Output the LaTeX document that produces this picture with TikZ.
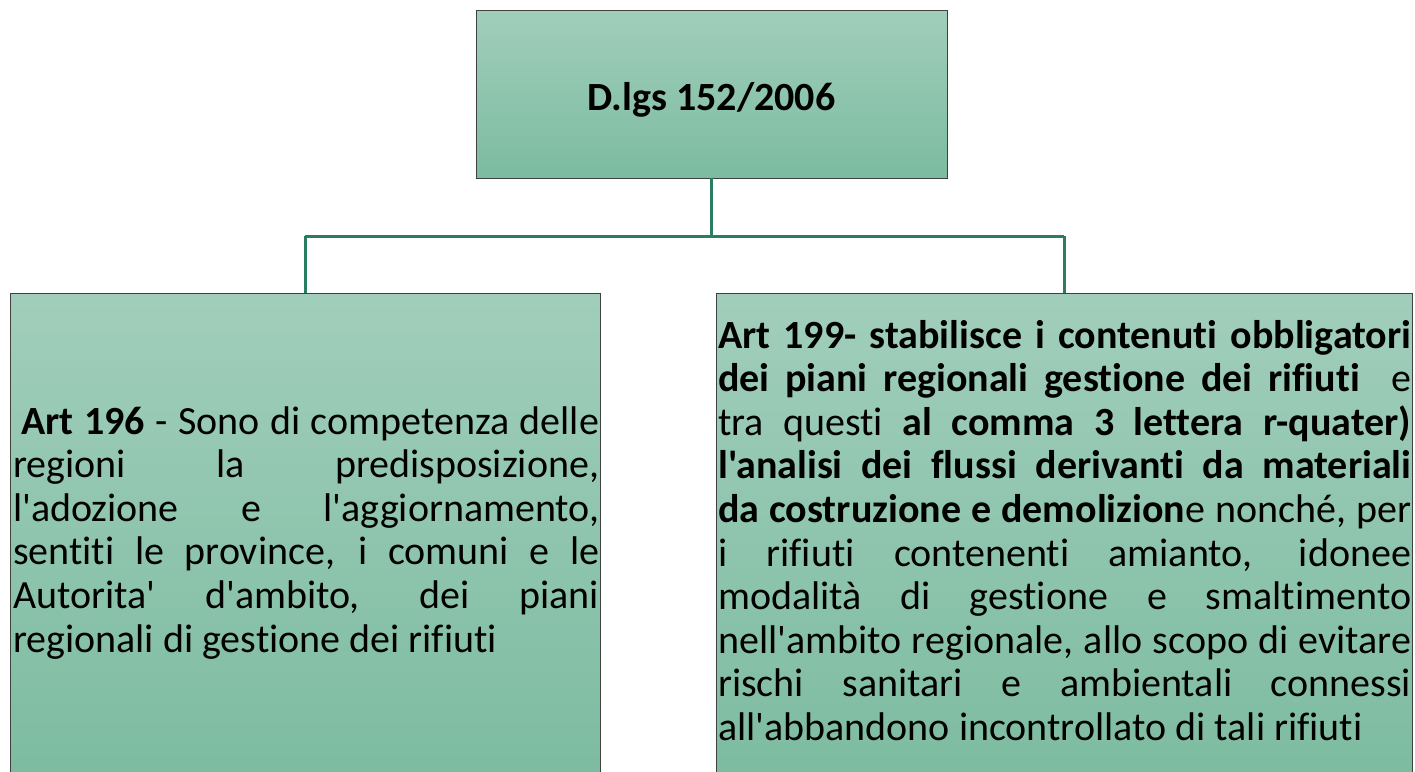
\documentclass[tikz,border=0pt]{standalone}
\usepackage{fontspec}
\newfontfamily\calfont{Carlito}[Ligatures={NoCommon}]
\definecolor{boxtop}{HTML}{A1CEBB}
\definecolor{boxbot}{HTML}{7CBBA0}
\definecolor{boxline}{HTML}{404040}
\definecolor{conn}{HTML}{2A7D62}
\tikzset{
  gbox/.style={draw=boxline, line width=0.8pt, top color=boxtop, bottom color=boxbot, inner sep=0pt},
  link/.style={draw=conn, line width=3pt},
  txt/.style={anchor=base west, inner sep=0pt, font=\calfont\fontsize{40}{43.6}\selectfont},
}
\newcommand{\jl}[2]{\makebox[#1][s]{#2}\\}
\begin{document}
\begin{tikzpicture}[x=1pt,y=-1pt]
\useasboundingbox (0,0) rectangle (1415,771);
\begin{scope}
\clip (0,0) rectangle (1415,771);
\path[gbox] (476,10) rectangle (947,178);
\node[inner sep=0, minimum width=471pt, minimum height=168pt] (top) at (711.5,94) {};
\path[gbox] (10,293) rectangle (600,790);
\node[inner sep=0, minimum width=590pt, minimum height=497pt] (left) at (305,541.5) {};
\path[gbox] (716,293) rectangle (1412,790);
\node[inner sep=0, minimum width=696pt, minimum height=497pt] (right) at (1064,541.5) {};
\end{scope}
\node[font=\calfont\bfseries\fontsize{40}{44}\selectfont, anchor=base, inner sep=0] (toptxt) at (711.5,110) {D.lgs 152/2006};
\coordinate (mid) at (711.5,236);
\draw[link] (top.south) -- (mid);
\draw[link] (left.north |- mid) -- (right.north |- mid);
\draw[link] (left.north |- mid) -- (left.north);
\draw[link] (right.north |- mid) -- (right.north);
\node[txt] (ltxt) at (13,434) {\parbox[t]{586pt}{\lineskiplimit=-20pt
\jl{586pt}{\hspace*{8pt}\textbf{Art 196} - Sono di competenza delle}
\jl{586pt}{regioni la predisposizione,}
\jl{586pt}{l'adozione e l'aggiornamento,}
\jl{586pt}{sentiti le province, i comuni e le}
\jl{586pt}{Autorita' d'ambito, dei piani}
regionali di gestione dei rifiuti}};
\node[txt] (rtxt) at (718,348) {\parbox[t]{693pt}{\lineskiplimit=-20pt
\jl{693pt}{\textbf{Art 199- stabilisce i contenuti obbligatori}}
\jl{693pt}{\textbf{dei piani regionali gestione dei rifiuti}\ \ e}
\jl{693pt}{tra questi \textbf{al comma 3 lettera r-quater)}}
\jl{693pt}{\textbf{l'analisi dei flussi derivanti da materiali}}
\jl{693pt}{\textbf{da costruzione e demolizion}e nonché, per}
\jl{693pt}{i rifiuti contenenti amianto, idonee}
\jl{693pt}{modalità di gestione e smaltimento}
\jl{693pt}{nell'ambito regionale, allo scopo di evitare}
\jl{693pt}{rischi sanitari e ambientali connessi}
all'abbandono incontrollato di tali rifiuti}};
\end{tikzpicture}
\end{document}
